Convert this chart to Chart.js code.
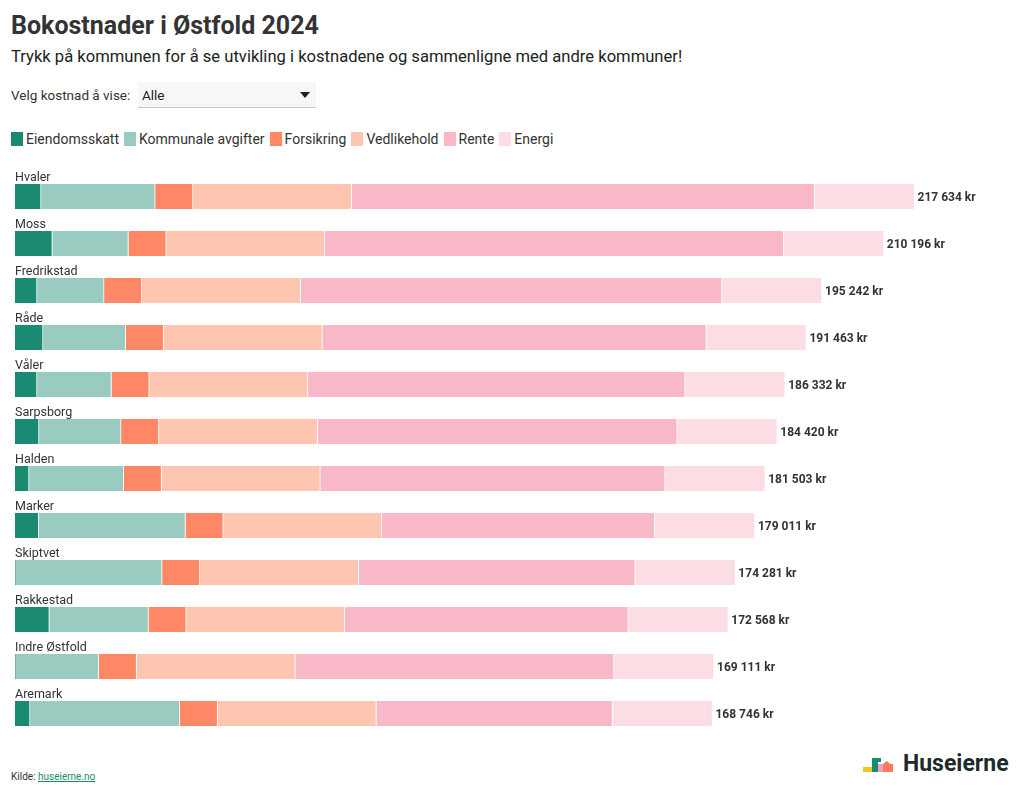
<!DOCTYPE html>
<html lang="no">
<head>
<meta charset="utf-8">
<title>Bokostnader i Østfold 2024</title>
<script src="https://cdn.jsdelivr.net/npm/chart.js@4.4.1/dist/chart.umd.min.js"></script>
<style>
  body { margin: 0; background: #fff; font-family: Roboto, "Noto Sans", sans-serif; color: #333; }
  .page { position: relative; width: 1020px; height: 794px; overflow: hidden; }
  h1 { position: absolute; left: 11px; top: 11px; margin: 0; font-size: 25px; font-weight: 700; color: #333; }
  .sub { position: absolute; left: 11px; top: 47px; font-size: 16.6px; color: #222; }
  .velg { position: absolute; left: 11px; top: 87px; font-size: 13.5px; color: #333; }
  .select { position: absolute; left: 138px; top: 82px; width: 178px; height: 26px; background: #f7f7f7; border-bottom: 1px solid #c8c8c8; box-sizing: border-box; }
  .select span { position: absolute; left: 4px; top: 5px; font-size: 13.5px; color: #222; }
  .select i { position: absolute; right: 6px; top: 10px; width: 0; height: 0; border-left: 5px solid transparent; border-right: 5px solid transparent; border-top: 6px solid #222; }
  #legend { position: absolute; left: 11px; top: 131px; font-size: 14px; color: #333; display: flex; }
  #legend div { display: flex; align-items: center; margin-right: 5px; }
  #legend b { display: inline-block; width: 12px; height: 14px; margin-right: 3px; }
  .wrap { position: absolute; left: 0; top: 165px; width: 1020px; height: 580px; }
  .kilde { position: absolute; left: 11px; top: 771px; font-size: 10px; color: #333; }
  .kilde a { color: #1b8a73; }
  .logo { position: absolute; left: 862px; top: 754px; width: 158px; height: 24px; }
  .logo .t { position: absolute; left: 41px; top: -4px; font-size: 23px; font-weight: 700; color: #1d2a2a; }
</style>
</head>
<body>
<div class="page">
  <h1>Bokostnader i Østfold 2024</h1>
  <div class="sub">Trykk på kommunen for å se utvikling i kostnadene og sammenligne med andre kommuner!</div>
  <div class="velg">Velg kostnad å vise:</div>
  <div class="select"><span>Alle</span><i></i></div>
  <div id="legend"></div>
  <div class="wrap"><canvas id="bokost"></canvas></div>
  <div class="kilde">Kilde: <a href="#">huseierne.no</a></div>
  <div class="logo">
    <svg width="36" height="20" style="position:absolute;left:0;top:2px">
      <rect x="1" y="11" width="9" height="5" fill="#f5c518"/>
      <rect x="10" y="2" width="6" height="14" fill="#1b8a73"/>
      <rect x="16" y="2" width="3" height="4" fill="#1b8a73"/>
      <rect x="16" y="8" width="6" height="8" fill="#f4a0b8"/>
      <polygon points="21,16 21,8 25,5 28,8 31,8 31,16" fill="#fe7a5c"/>
    </svg>
    <span class="t">Huseierne</span>
  </div>
</div>
<script>
const kommuner = ['Hvaler', 'Moss', 'Fredrikstad', 'Råde', 'Våler', 'Sarpsborg', 'Halden', 'Marker', 'Skiptvet', 'Rakkestad', 'Indre Østfold', 'Aremark'];

const eiendomsskatt = [6300, 9030, 5330, 6780, 5330, 5810, 3390, 5740, 0, 8300, 0, 3630];
const kommunaleAvgifter = [27600, 18400, 16220, 20020, 17990, 19850, 22920, 35490, 35590, 23970, 20260, 36240];
const forsikring = [9150, 9150, 9150, 9150, 9150, 9150, 9150, 9150, 9150, 9150, 9150, 9150];
const vedlikehold = [38400, 38400, 38400, 38400, 38400, 38400, 38400, 38400, 38400, 38400, 38400, 38400];
const rente = [111984, 111016, 101942, 92913, 91262, 87010, 83443, 66031, 66941, 68548, 77101, 57126];
const energi = [24200, 24200, 24200, 24200, 24200, 24200, 24200, 24200, 24200, 24200, 24200, 24200];

const serier = [
  { label: 'Eiendomsskatt', data: eiendomsskatt, color: '#1b8a73' },
  { label: 'Kommunale avgifter', data: kommunaleAvgifter, color: '#99cbc1' },
  { label: 'Forsikring', data: forsikring, color: '#fe8866' },
  { label: 'Vedlikehold', data: vedlikehold, color: '#fec6b0' },
  { label: 'Rente', data: rente, color: '#f9b8c8' },
  { label: 'Energi', data: energi, color: '#fcdde4' }
];

// legend i html
const legendEl = document.getElementById('legend');
serier.forEach(s => {
  const item = document.createElement('div');
  item.innerHTML = '<b style="background:' + s.color + '"></b>' + s.label;
  legendEl.appendChild(item);
});

const kr = v => String(Math.round(v)).replace(/\B(?=(\d{3})+(?!\d))/g, ' ') + ' kr';

// navn over stolpen og sum til høyre
const labelPlugin = {
  id: 'labelPlugin',
  afterDatasetsDraw(chart) {
    const { ctx, scales } = chart;
    ctx.save();
    ctx.textBaseline = 'middle';
    kommuner.forEach((navn, i) => {
      const y = scales.y.getPixelForValue(i);
      let sum = 0;
      chart.data.datasets.forEach(ds => { sum += ds.data[i]; });
      ctx.font = '12.5px Roboto, "Noto Sans", sans-serif';
      ctx.fillStyle = '#333';
      ctx.textAlign = 'left';
      ctx.fillText(navn, chart.chartArea.left, y - 19);
      ctx.font = 'bold 12px Roboto, "Noto Sans", sans-serif';
      ctx.fillText(kr(sum), scales.x.getPixelForValue(sum) + 3, y + 1);
    });
    ctx.restore();
  }
};

new Chart(document.getElementById('bokost').getContext('2d'), {
  type: 'bar',
  data: {
    labels: kommuner,
    datasets: serier.map(s => ({
      label: s.label,
      data: s.data,
      backgroundColor: s.color,
      borderColor: '#ffffff',
      // ingen kant på tomme segmenter
      borderWidth: c => c.raw ? { left: 0, right: 1, top: 0, bottom: 0 } : 0,
      borderSkipped: false,
      barThickness: 25
    }))
  },
  options: {
    indexAxis: 'y',
    responsive: true,
    maintainAspectRatio: false,
    animation: false,
    plugins: {
      legend: { display: false },
      tooltip: { enabled: false }
    },
    scales: {
      x: { stacked: true, display: false, min: 0, max: 240000 },
      y: { stacked: true, display: false }
    },
    layout: {
      padding: { top: 8, bottom: 8, left: 15, right: 13 }
    }
  },
  plugins: [labelPlugin]
});
</script>
</body>
</html>
